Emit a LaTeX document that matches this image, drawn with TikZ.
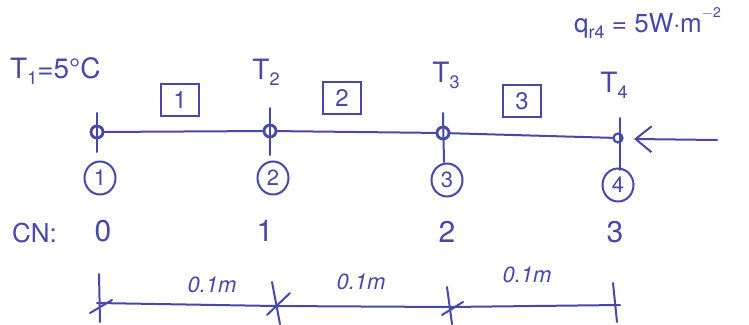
\documentclass[tikz,border=0pt]{standalone}
\usepackage{fontspec}
\setmainfont{TeX Gyre Heros}
\usetikzlibrary{arrows.meta,shapes.geometric}
\definecolor{pen}{RGB}{72,72,170}
% lowered index set in the text font
\newcommand{\lowidx}[1]{\raisebox{-0.45ex}{\fontsize{18}{20}\selectfont #1}}
\tikzset{
  ink/.style={draw=pen, line width=2pt, line cap=round, line join=round},
  lbl/.style={text=pen, inner sep=0pt, font=\fontsize{28}{32}\selectfont},
  small/.style={text=pen, inner sep=0pt, font=\fontsize{22}{26}\selectfont\itshape},
  elem/.style={draw=pen, line width=2pt, text=pen, minimum width=38pt, minimum height=32pt, inner sep=0pt, font=\fontsize{24}{28}\selectfont},
  cnum/.style={draw=pen, line width=2pt, ellipse, text=pen, minimum width=31pt, minimum height=33pt, inner sep=0pt, font=\fontsize{22}{26}\selectfont},
  dot/.style={draw=pen, line width=2.8pt, circle, minimum size=12pt, inner sep=0pt}
}
\begin{document}
\begin{tikzpicture}[x=1pt, y=-1pt]
\useasboundingbox (0,0) rectangle (749,324);
\fill[white] (0,0) rectangle (749,324);

% nodes of the rod
\node[dot] (n1) at (97,132) {};
\node[dot] (n2) at (270,131) {};
\node[dot] (n3) at (443,133) {};
\node[dot, minimum size=9pt, line width=2.2pt] (n4) at (618,138) {};
\draw[ink] (n1) -- (n2) -- (n3) -- (n4);

% ticks through the nodes
\draw[ink] (97,113) -- (97,152);
\draw[ink] (270,108) -- (270,155);
\draw[ink] (443,113) -- (444,162);
\draw[ink] (620,118) -- (620,170);

% incoming heat flux
\coordinate (fluxtail) at (717,140);
\draw[ink, -{Straight Barb[length=16pt, width=26pt, line width=2pt]}] (fluxtail) -- (634,139);

% temperature labels
\node[lbl, anchor=base west] (t1) at (10,78) {T\lowidx{1}=5°C};
\node[lbl, anchor=base] (t2) at (266,79) {T\lowidx{2}};
\node[lbl, anchor=base] (t3) at (446,82) {T\lowidx{3}};
\node[lbl, anchor=base] (t4) at (614,92) {T\lowidx{4}};
\node[lbl, anchor=base west, font=\fontsize{26}{30}\selectfont] (q) at (574,32) {q\lowidx{r4} = 5W$\cdot$m\raisebox{1.1ex}{\fontsize{14}{16}\selectfont $-$2}};

% element numbers
\node[elem] (e1) at (180,100) {1};
\node[elem] (e2) at (342,98) {2};
\node[elem] (e3) at (522,101) {3};

% node numbers
\node[cnum] (c1) at (100,178) {1};
\node[cnum] (c2) at (273,178) {2};
\node[cnum] (c3) at (447,180) {3};
\node[cnum] (c4) at (618,185) {4};

% computational node indices
\node[lbl, anchor=base west, font=\fontsize{26}{30}\selectfont] (cn) at (12,242) {CN:};
\node[lbl, anchor=base, font=\fontsize{30}{34}\selectfont] (k0) at (103,241) {0};
\node[lbl, anchor=base, font=\fontsize{30}{34}\selectfont] (k1) at (265,241) {1};
\node[lbl, anchor=base, font=\fontsize{30}{34}\selectfont] (k2) at (447,242) {2};
\node[lbl, anchor=base, font=\fontsize{30}{34}\selectfont] (k3) at (615,242) {3};

% dimension line
\coordinate (d1) at (97,303);
\coordinate (d2) at (275,306);
\coordinate (d3) at (449,307);
\coordinate (d4) at (620,305);
\draw[ink] (d1) -- (d2) -- (d3) -- (d4);
\draw[ink] (99,274) -- (100,322);
\draw[ink] (90,313) -- (112,300);
\draw[ink] (272,282) -- (280,324);
\draw[ink] (267,315) -- (290,293);
\draw[ink] (447,287) -- (452,324);
\draw[ink] (442,315) -- (463,302);
\draw[ink] (613,283) -- (617,322);
\node[small, anchor=base] (w1) at (212,292) {0.1m};
\node[small, anchor=base] (w2) at (361,289) {0.1m};
\node[small, anchor=base] (w3) at (527,282) {0.1m};
\end{tikzpicture}
\end{document}
